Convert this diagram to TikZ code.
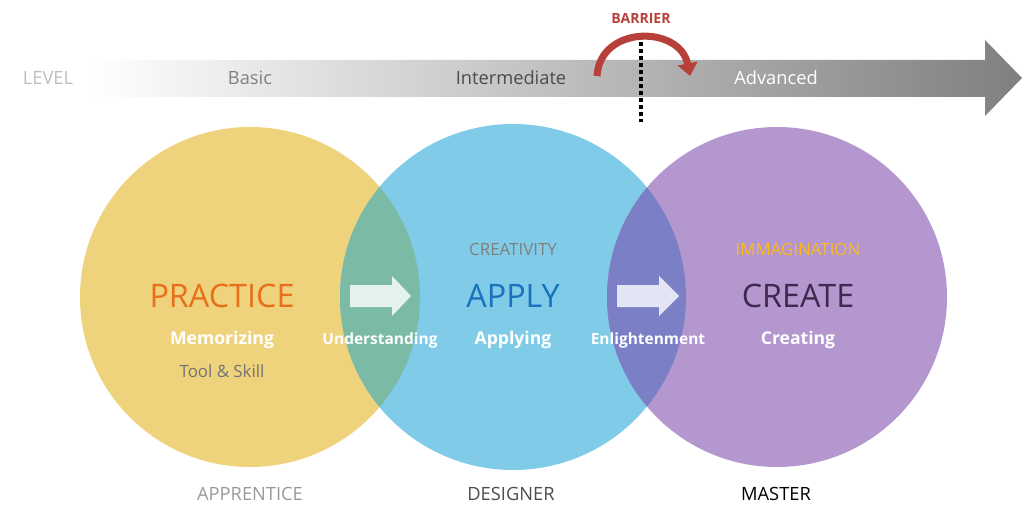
\documentclass[tikz,border=0pt]{standalone}
\usepackage{fontspec}
\setmainfont{Open Sans}
\usetikzlibrary{arrows.meta}
\definecolor{cy}{HTML}{EFD37C}
\definecolor{cb}{HTML}{7FCBE8}
\definecolor{cp}{HTML}{B497CF}
\definecolor{cyb}{HTML}{7BBBA5}
\definecolor{cbp}{HTML}{7B80C6}
\definecolor{corange}{HTML}{E8701A}
\definecolor{cblue}{HTML}{1A72BE}
\definecolor{cdp}{HTML}{3D2A4E}
\definecolor{cred}{HTML}{B8403A}
\begin{document}
\begin{tikzpicture}[x=0.025cm,y=-0.025cm,
  lab/.style={font=\fontsize{13}{15}\selectfont},
  big/.style={font=\fontsize{23}{26}\selectfont},
  sub/.style={font=\bfseries\fontsize{12.5}{15}\selectfont,text=white},
  sm/.style={font=\fontsize{12}{14}\selectfont},
  fat/.style={fill=#1,draw=none}]
\useasboundingbox (0,0) rectangle (1024,524);
% level bar
\shade[left color=white,right color=black!50,shading angle=90]
  (90,60) -- (985,60) -- (985,40) -- (1022,78) -- (985,116) -- (985,97) -- (90,97) -- cycle;
\node[lab,text=black!25] (lv) at (48,78) {LEVEL};
\node[lab,text=black!50] (ba) at (250,78) {Basic};
\node[lab,text=black!70] (im) at (511,78) {Intermediate};
\node[lab,text=white] (ad) at (776,78) {Advanced};
% barrier
\node[font=\bfseries\fontsize{10}{12}\selectfont,text=cred] (bar) at (641,18) {BARRIER};
\coordinate (b1) at (597,76); \coordinate (b2) at (690,76);
\draw[cred,line width=5pt,-{Triangle[length=9pt,width=14pt]}] (b1) .. controls (600,25) and (680,25) .. (b2);
\coordinate (d1) at (641,42); \coordinate (d2) at (641,122);
\draw[black,line width=2.5pt,dash pattern=on 2.5pt off 2.5pt] (d1) -- (d2);
% circles
\fill[cy] (250,297) circle (170);
\fill[cb] (513,297) circle (173);
\fill[cp] (777,297) circle (170);
\begin{scope}\clip (250,297) circle (170); \fill[cyb] (513,297) circle (173);\end{scope}
\begin{scope}\clip (777,297) circle (170); \fill[cbp] (513,297) circle (173);\end{scope}
% arrows
\fill[white!80!cyb] (350,285) -- (392,285) -- (392,276) -- (411,296) -- (392,316) -- (392,307) -- (350,307) -- cycle;
\fill[white!80!cbp] (617,285) -- (659,285) -- (659,276) -- (679,296) -- (659,316) -- (659,307) -- (617,307) -- cycle;
% texts
\node[big,text=corange] (pr) at (222,296) {PRACTICE};
\node[sub] (me) at (222,340) {Memorizing};
\node[sm,text=black!55] (ts) at (222,371) {Tool \& Skill};
\node[sub,font=\bfseries\fontsize{11}{13}\selectfont] (un) at (380,340) {Understanding};
\node[sm,text=black!50] (cr) at (513,249) {CREATIVITY};
\node[big,text=cblue] (ap) at (513,296) {APPLY};
\node[sub] (aa) at (513,340) {Applying};
\node[sub,font=\bfseries\fontsize{11}{13}\selectfont] (en) at (648,340) {Enlightenment};
\node[sm,text=orange!60!yellow!90!white] (ig) at (798,249) {IMMAGINATION};
\node[big,text=cdp] (ce) at (798,296) {CREATE};
\node[sub] (cc) at (798,340) {Creating};
\node[lab,text=black!40] (at) at (250,494) {APPRENTICE};
\node[lab,text=black!70] (de) at (511,494) {DESIGNER};
\node[lab,text=black] (ms) at (776,494) {MASTER};
\end{tikzpicture}
\end{document}
